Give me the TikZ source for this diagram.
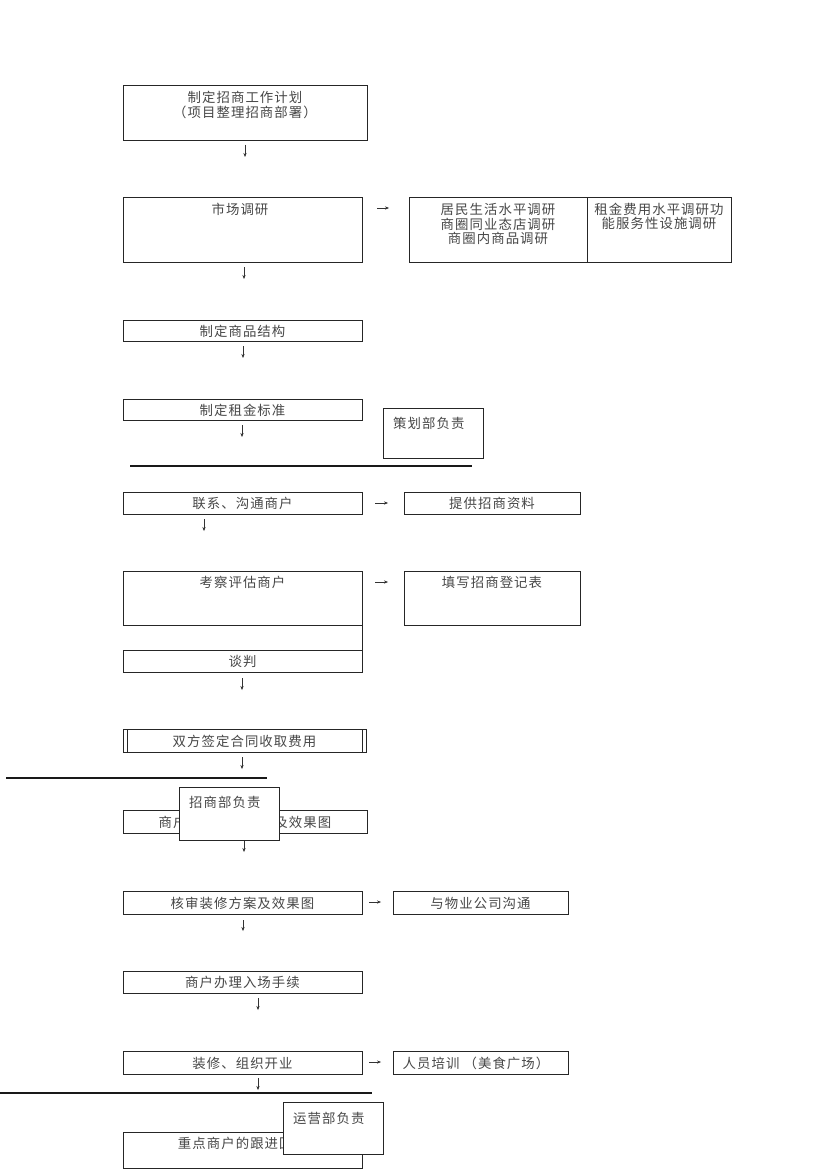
\documentclass[tikz,border=0pt]{standalone}
\usepackage{fontspec}
\newfontfamily\cjk[LetterSpace=8]{Noto Sans CJK SC}
\usetikzlibrary{arrows.meta}
\begin{document}
\begin{tikzpicture}[x=1pt,y=-1pt,
  box/.style={draw=black!85, line width=0.8pt, inner sep=0pt, anchor=north west},
  owner/.style={box, fill=white, minimum width=100pt},
  txt/.style={font=\cjk\fontsize{13.4}{14.4}\selectfont, text=black!72, inner sep=0pt, align=center},
  arr/.style={-{Stealth[length=4pt,width=3.2pt]}, line width=0.5pt, draw=black!80, fill=black!80},
  rule/.style={line width=1.1pt, draw=black!90}]
\useasboundingbox (0,0) rectangle (826,1169);
\fill[white] (0,0) rectangle (826,1169);

% plan
\node[box, minimum width=244pt, minimum height=55pt] (b1) at (123,85) {};
\node[txt] (t1) at (245,105) {制定招商工作计划\\（项目整理招商部署）};

% market research
\node[box, minimum width=239pt, minimum height=65pt] (b2) at (123,197) {};
\node[txt] (t2) at (240,209.5) {市场调研};
\node[box, minimum width=178pt, minimum height=65pt] (b3) at (409,197) {};
\node[txt] (t3) at (498,224) {居民生活水平调研\\商圈同业态店调研\\商圈内商品调研};
\node[box, minimum width=144pt, minimum height=65pt] (b4) at (587,197) {};
\node[txt] (t4) at (659,216.5) {租金费用水平调研功\\能服务性设施调研};

\node[box, minimum width=239pt, minimum height=21pt] (b5) at (123,320) {};
\node[txt] (t5) at (242.5,331) {制定商品结构};
\node[box, minimum width=239pt, minimum height=21pt] (b6) at (123,399) {};
\node[txt] (t6) at (242.5,410) {制定租金标准};

\node[owner, minimum height=50pt] (b7) at (383,408) {};
\node[txt, anchor=west] (t7) at (393,423.5) {策划部负责};

\coordinate (r1a) at (130,466); \coordinate (r1b) at (472,466);
\draw[rule] (r1a) -- (r1b);

\node[box, minimum width=239pt, minimum height=22pt] (b8) at (123,492) {};
\node[txt] (t8) at (242.5,503.5) {联系、沟通商户};
\node[box, minimum width=176pt, minimum height=22pt] (b9) at (404,492) {};
\node[txt] (t9) at (492,503.5) {提供招商资料};

\node[box, minimum width=239pt, minimum height=54pt] (b10) at (123,571) {};
\node[txt] (t10) at (242.5,582.5) {考察评估商户};
\node[box, minimum width=176pt, minimum height=54pt] (b11) at (404,571) {};
\node[txt] (t11) at (492,582.5) {填写招商登记表};

\node[box, minimum width=239pt, minimum height=22pt] (b12) at (123,650) {};
\node[txt] (t12) at (242.5,661.5) {谈判};
\draw[draw=black!85, line width=0.8pt] (b10.south east) -- (b12.north east);

\node[box, minimum width=243pt, minimum height=23pt] (b13) at (123,729) {};
\draw[draw=black!85, line width=0.8pt] ([xshift=4pt]b13.north west) -- ([xshift=4pt]b13.south west)
  ([xshift=-4pt]b13.north east) -- ([xshift=-4pt]b13.south east);
\node[txt] (t13) at (244.5,741) {双方签定合同收取费用};

\coordinate (r2a) at (6,778); \coordinate (r2b) at (267,778);
\draw[rule] (r2a) -- (r2b);

\node[box, minimum width=244pt, minimum height=23pt] (b14) at (123,810) {};
\node[txt] (t14) at (245,822) {商户提交装修方案及效果图};
\node[owner, minimum height=53pt] (b15) at (179,787) {};
\node[txt, anchor=west] (t15) at (189,802) {招商部负责};

\node[box, minimum width=239pt, minimum height=23pt] (b16) at (123,891) {};
\node[txt] (t16) at (242.5,903) {核审装修方案及效果图};
\node[box, minimum width=175pt, minimum height=23pt] (b17) at (393,891) {};
\node[txt] (t17) at (480.5,903) {与物业公司沟通};

\node[box, minimum width=239pt, minimum height=22pt] (b18) at (123,971) {};
\node[txt] (t18) at (242.5,982.5) {商户办理入场手续};

\node[box, minimum width=239pt, minimum height=23pt] (b19) at (123,1051) {};
\node[txt] (t19) at (242.5,1063) {装修、组织开业};
\node[box, minimum width=175pt, minimum height=23pt] (b20) at (393,1051) {};
\node[txt] (t20) at (476,1063) {人员培训 （美食广场）};

\coordinate (r3a) at (0,1093); \coordinate (r3b) at (372,1093);
\draw[rule] (r3a) -- (r3b);

\node[box, minimum width=239pt, minimum height=36pt] (b21) at (123,1132) {};
\node[txt] (t21) at (242.5,1143.5) {重点商户的跟进回访};
\node[owner, minimum height=52pt] (b22) at (283,1102) {};
\node[txt, anchor=west] (t22) at (293,1118) {运营部负责};

% small vertical arrows
\foreach \n/\x/\ya/\yb in {1/245/145/157, 2/244/267/279, 3/243/346/358, 4/242/425/437,
  5/204/519/531, 6/242/678/690, 7/242/757/769, 8/244/841/852, 9/243/920/931,
  10/258/998/1010, 11/258/1078/1090}{
  \coordinate (v\n s) at (\x,\ya); \coordinate (v\n e) at (\x,\yb);
  \draw[arr] (v\n s) -- (v\n e);
}
% small horizontal arrows
\foreach \n/\xa/\xb/\y in {1/377/389/208, 2/375/388/503, 3/375/388/582, 4/369/381/902, 5/369/381/1062}{
  \coordinate (h\n s) at (\xa,\y); \coordinate (h\n e) at (\xb,\y);
  \draw[arr] (h\n s) -- (h\n e);
}
\end{tikzpicture}
\end{document}
